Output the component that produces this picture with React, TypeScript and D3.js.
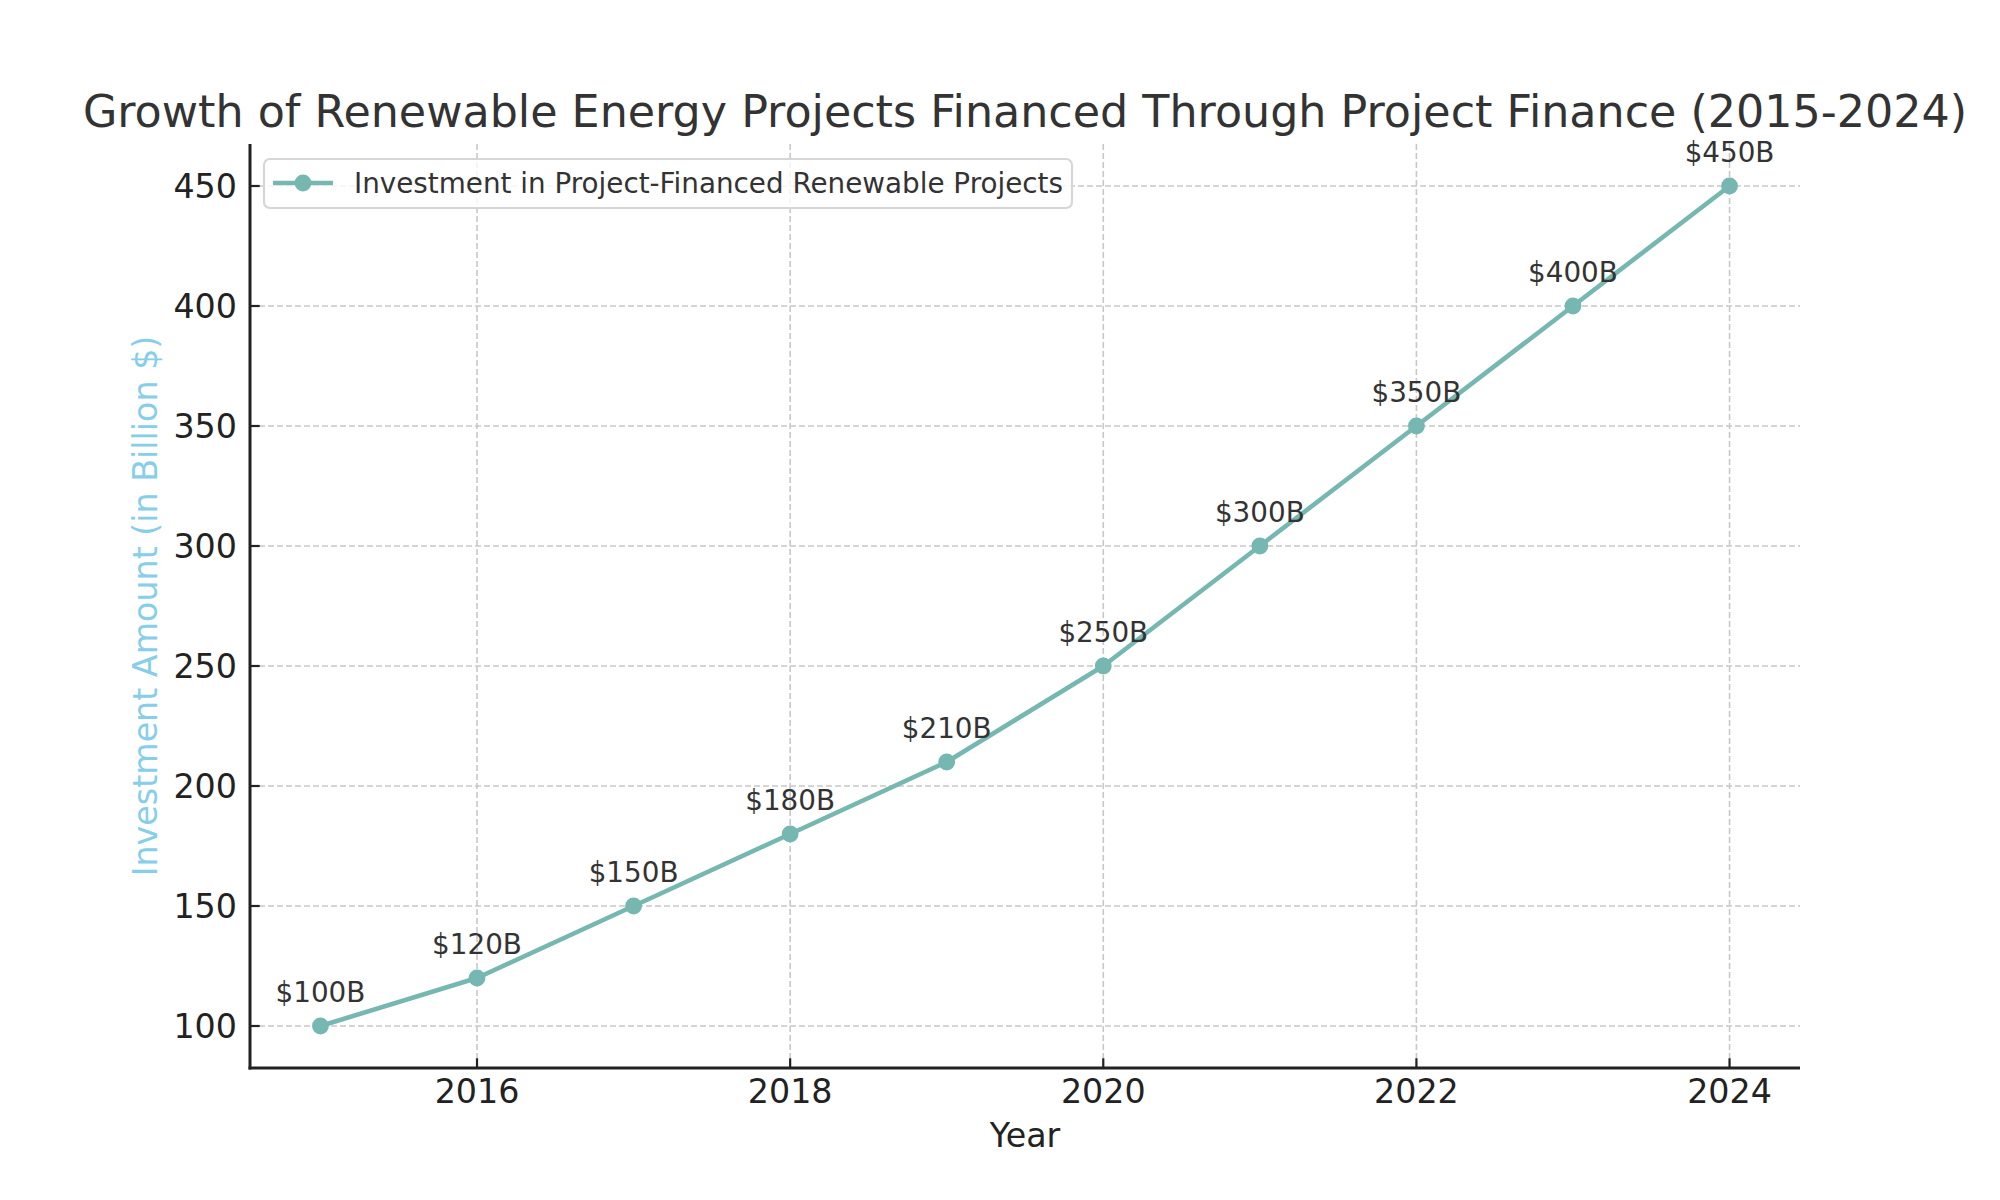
import React from 'react';
import * as d3 from 'd3';

// data
const years = [2015, 2016, 2017, 2018, 2019, 2020, 2021, 2022, 2023, 2024];
const investment = [100, 120, 150, 180, 210, 250, 300, 350, 400, 450];
const xTicks = [2016, 2018, 2020, 2022, 2024];
const yTicks = [100, 150, 200, 250, 300, 350, 400, 450];
const seriesName = 'Investment in Project-Financed Renewable Projects';
const title = 'Growth of Renewable Energy Projects Financed Through Project Finance (2015-2024)';

const W = 2000;
const H = 1200;
const m = { left: 250, right: 1800, top: 144, bottom: 1068 };
const lineColor = '#76b7b2';
const font = '"DejaVu Sans", sans-serif';

export default () => {
  // matplotlib-like 5% margins
  const xPad = (d3.max(years)! - d3.min(years)!) * 0.05;
  const yPad = (d3.max(investment)! - d3.min(investment)!) * 0.05;
  const x = d3.scaleLinear()
    .domain([d3.min(years)! - xPad, d3.max(years)! + xPad])
    .range([m.left, m.right]);
  const y = d3.scaleLinear()
    .domain([d3.min(investment)! - yPad, d3.max(investment)! + yPad])
    .range([m.bottom, m.top]);

  const pts = years.map((yr, i) => [yr, investment[i]] as [number, number]);
  const line = d3.line<[number, number]>()
    .x(d => x(d[0]))
    .y(d => y(d[1]));

  return (
    <svg width={W} height={H} style={{ position: 'absolute', left: 0, top: 0, background: '#fff' }} fontFamily={font}>
      <rect width={W} height={H} fill="#fff" />

      {/* grid */}
      {yTicks.map(t => (
        <line key={'gy' + t} x1={m.left} x2={m.right} y1={y(t)} y2={y(t)}
          stroke="#c8c8c8" strokeWidth={1.6} strokeDasharray="6,3" />
      ))}
      {xTicks.map(t => (
        <line key={'gx' + t} x1={x(t)} x2={x(t)} y1={m.top} y2={m.bottom}
          stroke="#c8c8c8" strokeWidth={1.6} strokeDasharray="6,3" />
      ))}

      {/* series */}
      <path d={line(pts) || ''} fill="none" stroke={lineColor} strokeWidth={4.6} strokeLinejoin="round" strokeLinecap="round" />
      {pts.map(d => (
        <circle key={'c' + d[0]} cx={x(d[0])} cy={y(d[1])} r={8.4} fill={lineColor} />
      ))}
      {pts.map(d => (
        <text key={'a' + d[0]} x={x(d[0])} y={y(d[1]) - 24} textAnchor="middle"
          fontSize={27.8} fill="#333333">{`$${d[1]}B`}</text>
      ))}

      {/* spines */}
      <line x1={m.left} x2={m.left} y1={m.top} y2={m.bottom + 1.5} stroke="#222" strokeWidth={3} />
      <line x1={m.left - 1.5} x2={m.right} y1={m.bottom} y2={m.bottom} stroke="#222" strokeWidth={3} />

      {/* ticks */}
      {yTicks.map(t => (
        <g key={'ty' + t}>
          <line x1={m.left} x2={m.left + 9.7} y1={y(t)} y2={y(t)} stroke="#222" strokeWidth={2.2} />
          <text x={m.left - 13} y={y(t)} dy="0.36em" textAnchor="end" fontSize={33.3} fill="#222">{t}</text>
        </g>
      ))}
      {xTicks.map(t => (
        <g key={'tx' + t}>
          <line x1={x(t)} x2={x(t)} y1={m.bottom} y2={m.bottom - 9.7} stroke="#222" strokeWidth={2.2} />
          <text x={x(t)} y={1103} textAnchor="middle" fontSize={33.3} fill="#222">{t}</text>
        </g>
      ))}

      {/* axis labels */}
      <text x={(m.left + m.right) / 2} y={1147} textAnchor="middle" fontSize={33.3} fill="#222">Year</text>
      <text transform={`translate(157, ${(m.top + m.bottom) / 2}) rotate(-90)`} textAnchor="middle"
        fontSize={33.3} fill="#87ceeb">Investment Amount (in Billion $)</text>

      {/* title */}
      <text x={(m.left + m.right) / 2} y={127} textAnchor="middle" fontSize={44.4} fill="#333333">{title}</text>

      {/* legend */}
      <g>
        <rect x={264} y={159} width={808} height={49} rx={6} fill="#fff" fillOpacity={0.8} stroke="#d6d6d6" strokeWidth={2.2} />
        <line x1={273} x2={333} y1={183} y2={183} stroke={lineColor} strokeWidth={4.6} />
        <circle cx={303} cy={183} r={8.4} fill={lineColor} />
        <text x={354} y={193} fontSize={27.8} fill="#333333">{seriesName}</text>
      </g>
    </svg>
  );
};
